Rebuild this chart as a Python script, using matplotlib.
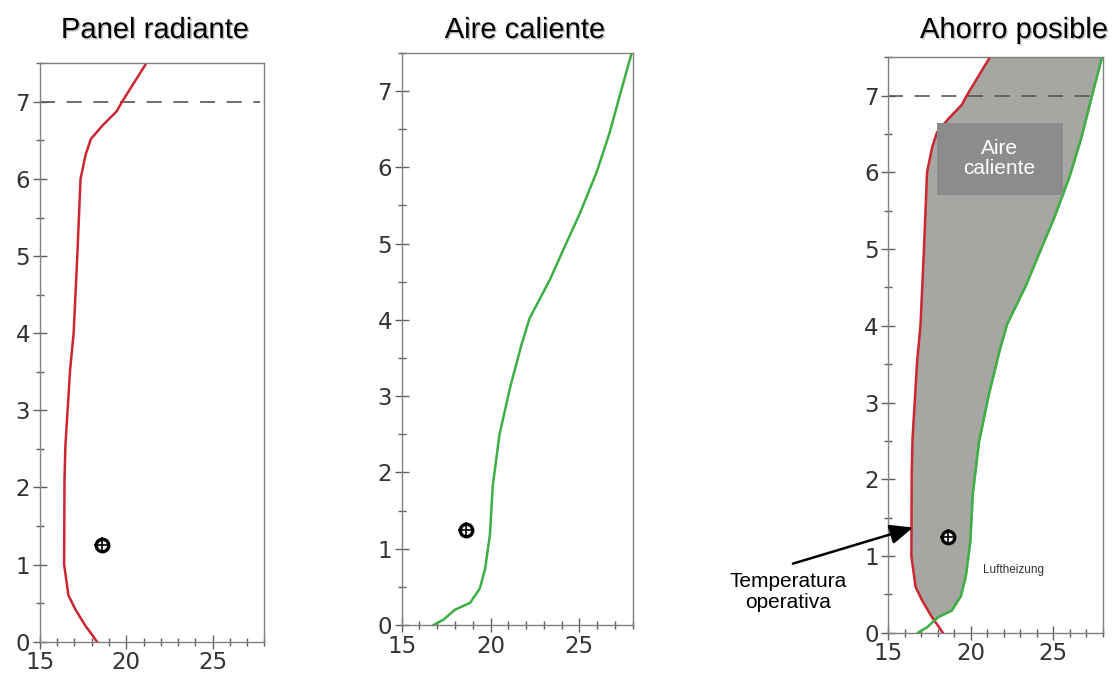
import numpy as np
import matplotlib
matplotlib.use("Agg")
import matplotlib.pyplot as plt
import matplotlib.patheffects as pe
from matplotlib.patches import Rectangle

# Vertical temperature profiles (temperature in degC, height in m)
radiant_temp = [18.3, 18.05, 17.65, 17.05, 16.65, 16.4, 16.42, 16.47, 16.75, 16.95,
                17.15, 17.35, 17.65, 17.95, 18.65, 19.45, 19.75, 21.1]
radiant_height = [0.0, 0.08, 0.2, 0.42, 0.6, 1.0, 2.08, 2.53, 3.54, 4.0,
                  4.94, 6.0, 6.32, 6.52, 6.7, 6.88, 7.0, 7.48]

air_temp = [16.8, 17.35, 18.0, 18.85, 19.4, 19.7, 19.97, 20.12, 20.5, 21.1,
            21.75, 22.2, 23.35, 24.1, 25.04, 25.98, 26.7, 27.3, 27.95]
air_height = [0.0, 0.07, 0.2, 0.29, 0.48, 0.74, 1.19, 1.81, 2.49, 3.11,
              3.68, 4.02, 4.53, 4.92, 5.4, 5.94, 6.45, 6.96, 7.5]

operative_point = (18.6, 1.25)
occupied_limit = 7.0

titles = ["Panel radiante", "Aire caliente", "Ahorro posible"]
x_ticks = [15, 20, 25]
y_ticks = [0, 1, 2, 3, 4, 5, 6, 7]

RED = "#cc2630"
GREEN = "#3cb043"
NARROW = ["Liberation Sans Narrow", "Liberation Sans", "DejaVu Sans"]

fig = plt.figure(figsize=(11.13, 6.75), dpi=100)
positions = [
    [0.0359, 0.0493, 0.2017, 0.8569],
    [0.3609, 0.0741, 0.2075, 0.8476],
    [0.7981, 0.0627, 0.1927, 0.8524],
]
axes = [fig.add_axes(p) for p in positions]


def style_axis(ax):
    ax.set_xlim(15, 28)
    ax.set_ylim(0, 7.5)
    ax.set_xticks(x_ticks)
    ax.set_yticks(y_ticks)
    ax.set_xticks(np.arange(15, 28.5, 1), minor=True)
    ax.set_yticks(np.arange(0, 7.6, 0.5), minor=True)
    for s in ax.spines.values():
        s.set_color("#808080")
        s.set_linewidth(1.0)
    ax.tick_params(which="major", direction="inout", length=10, width=1.0,
                   color="#606060", labelsize=16.5, labelcolor="#333333", pad=2)
    ax.tick_params(which="minor", direction="inout", length=6, width=1.0,
                   color="#606060")
    for lab in ax.get_xticklabels() + ax.get_yticklabels():
        lab.set_family("DejaVu Sans")


def draw_point(ax):
    ax.plot(*operative_point, marker="o", ms=9, mfc="white", mec="black",
            mew=2.4, zorder=6)
    ax.plot(*operative_point, marker="+", ms=12, mec="black", mew=1.2, zorder=7)


ax1, ax2, ax3 = axes
for ax in axes:
    style_axis(ax)

# panel 1: radiant panel
ax1.axhline(occupied_limit, xmin=0, xmax=0.98, color="#555555", lw=1.2,
            dashes=(9, 7))
ax1.plot(radiant_temp, radiant_height, color=RED, lw=1.8)
draw_point(ax1)

# panel 2: warm air
ax2.plot(air_temp, air_height, color=GREEN, lw=1.8)
draw_point(ax2)

# panel 3: possible saving
yy = np.linspace(0, 7.5, 400)
xr = np.interp(yy, radiant_height, radiant_temp)
xg = np.interp(yy, air_height, air_temp)
ax3.fill_betweenx(yy, xr, xg, where=xg >= xr, interpolate=True,
                  color="#a6a6a2", zorder=1)
ax3.axhline(occupied_limit, xmin=0, xmax=0.98, color="#555555", lw=1.2,
            dashes=(9, 7), zorder=2)
ax3.plot(radiant_temp, radiant_height, color=RED, lw=1.8, zorder=3)
ax3.plot(air_temp, air_height, color=GREEN, lw=1.8, zorder=3)
draw_point(ax3)

ax3.add_patch(Rectangle((17.93, 5.70), 7.64, 0.95, facecolor="#8c8c8c",
                        edgecolor="none", zorder=4))
ax3.text(21.75, 6.18, "Aire\ncaliente", color="white", ha="center",
         va="center", fontsize=15, family=NARROW, linespacing=1.1, zorder=5)

ax3.text(22.6, 0.82, "Luftheizung", color="#333333", ha="center", va="center",
         fontsize=8.5, family=NARROW)

ax3.annotate("", xy=(16.5, 1.37), xytext=(9.22, 0.9), xycoords="data",
             textcoords="data", annotation_clip=False,
             arrowprops=dict(arrowstyle="-|>,head_length=1.4,head_width=0.6",
                             color="black", lw=1.8, shrinkA=0, shrinkB=0))
ax3.text(8.92, 0.53, "Temperatura\noperativa", ha="center", va="center",
         fontsize=15, family=NARROW, linespacing=1.1, clip_on=False)

# titles
shadow = [pe.withSimplePatchShadow(offset=(1, -1), shadow_rgbFace="#999999",
                                   alpha=0.6)]
for xc, t in zip([155, 525, 1014], titles):
    fig.text(xc / 1113, 1 - 30 / 675, t, ha="center", va="center",
             fontsize=21, family=NARROW, color="black", path_effects=shadow)

fig.savefig("out.png", dpi=100)
